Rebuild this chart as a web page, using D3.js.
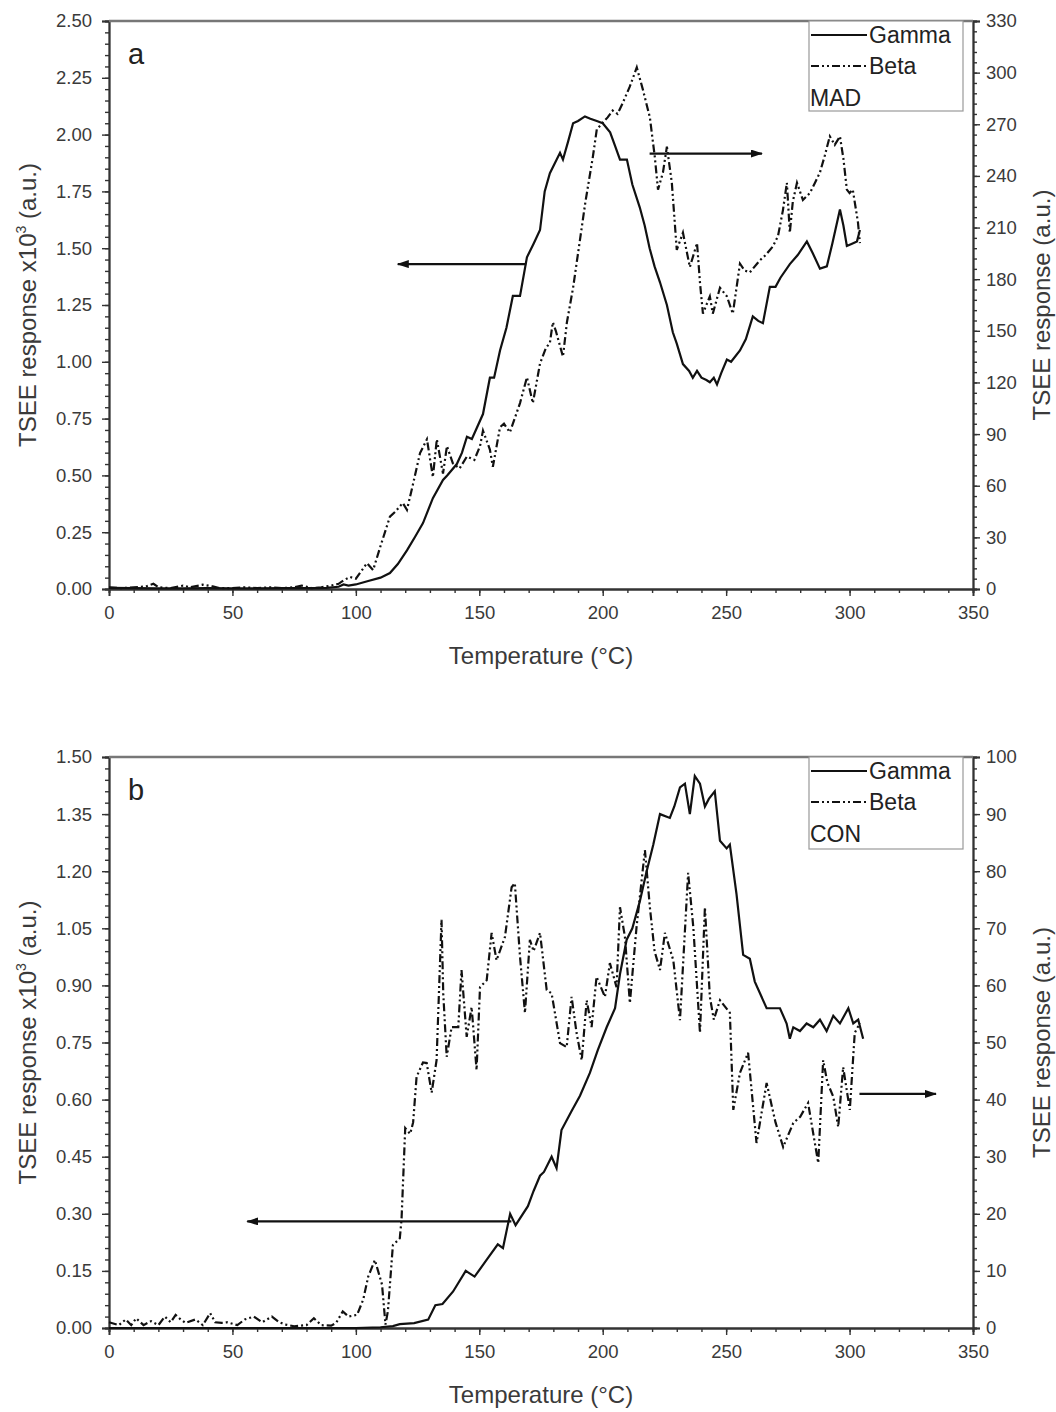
<!DOCTYPE html>
<html>
<head>
<meta charset="utf-8">
<script src="https://cdn.jsdelivr.net/npm/d3@7"></script>
<style>
  body { margin: 0; background: #fff; }
  svg { font-family: "Liberation Sans", Arial, sans-serif; }
</style>
</head>
<body>
<svg id="chart" width="1056" height="1412"></svg>
<script>
// ─── DATA ─────────────────────────────────────────────────────────────────────
// [temperature °C, value]; gamma on left axis (x10^3 a.u.), beta on right axis (a.u.)
const xTicks = [0, 50, 100, 150, 200, 250, 300, 350];

const madGamma = [
  [0,0.005],[10,0.004],[20,0.003],[30,0.003],[40,0.004],[50,0.003],[60,0.003],[70,0.004],
  [80,0.004],[88,0.005],[93,0.01],[95,0.02],[97,0.015],[100,0.02],[105,0.035],[110,0.05],
  [113.8,0.07],[117,0.11],[120.7,0.17],[124,0.23],[127.2,0.29],[131.2,0.40],[135.3,0.48],
  [137,0.50],[140.9,0.55],[143,0.60],[145,0.67],[147,0.66],[151.5,0.77],[154.3,0.93],
  [156,0.93],[158.4,1.05],[161,1.15],[163.6,1.29],[166.5,1.29],[169.3,1.46],[172,1.52],
  [174.6,1.58],[176.5,1.75],[178.6,1.83],[182.7,1.92],[183.9,1.89],[186,1.97],[188,2.05],
  [190,2.06],[192.8,2.08],[195,2.07],[197.6,2.06],[200,2.05],[203,2.01],[205,1.95],
  [207,1.89],[209.8,1.89],[212,1.78],[215,1.68],[217,1.60],[219,1.50],[221,1.42],
  [223.2,1.35],[226,1.25],[228.4,1.13],[230,1.08],[232.5,0.99],[235,0.96],[236.5,0.93],
  [238.2,0.96],[240,0.93],[242,0.92],[243.4,0.91],[245,0.93],[246.3,0.90],[248,0.95],
  [250.3,1.01],[252,1.00],[255.6,1.05],[258,1.10],[260.8,1.20],[263,1.18],[264.9,1.17],
  [267.7,1.33],[270,1.33],[272,1.37],[275.8,1.43],[279,1.47],[282.7,1.53],[285,1.48],
  [288,1.41],[290.8,1.42],[293,1.52],[296.1,1.67],[297.5,1.60],[298.9,1.51],[301,1.52],
  [303,1.53],[304.2,1.58]
];

const madBeta = [
  [0,1],[5,0.5],[10,1],[15,1.5],[18,3],[20,1],[25,0.5],[30,2],[33,1],[38,2.5],[42,1.5],
  [45,0.5],[50,0.5],[55,1],[60,0.5],[65,1],[70,0.5],[75,1],[78,2],[82,0.5],[86,1],[90,2],
  [93,3],[95,5],[97.6,7],[100,6],[102,10],[104.5,15],[107,11],[110,25],[113.8,42],[116,45],
  [119,50],[120.7,46],[123,60],[126,79],[128.8,87],[131.2,65],[132.8,87],[135.3,67],
  [136.9,83],[139.3,73],[142,70],[145,77],[148,75],[150.3,83],[151.5,92],[154.3,81],
  [155.5,71],[158.4,94],[160,96],[162.4,91],[166.5,108],[169.3,123],[171.7,108],
  [174.6,131],[177,140],[178.6,143],[179.8,155],[181,150],[183.9,135],[185.5,155],
  [188,175],[190.8,203],[193,225],[196,251],[197.6,267],[200,271],[202,274],[204,278],
  [206,276],[208,282],[211,292],[213.8,303],[216.3,290],[219.1,274],[221.1,251],
  [222.4,232],[224.4,242],[226,257],[228,236],[230,197],[232.5,207],[235.3,187],
  [238.2,201],[239.4,178],[240.6,160],[243.4,170],[244.6,160],[247.5,175],[250.3,170],
  [252.7,160],[255.6,189],[257.5,185],[259.6,184],[263.7,191],[266,194],[268.9,199],
  [271,205],[273,220],[274.6,236],[275.8,207],[277,225],[278.7,236],[281.1,226],
  [283.9,230],[286,236],[288,242],[290,252],[292,263],[294,258],[296.1,263],[297.5,250],
  [298.9,232],[300,230],[301.3,232],[303.4,213],[304.2,201]
];

const conGamma = [
  [0,0],[20,0],[40,0],[60,0],[80,0],[100,0],[110,0.002],[115,0.005],[117.8,0.01],
  [123.6,0.013],[129.3,0.022],[132.2,0.06],[135.1,0.063],[139.4,0.096],[144.5,0.15],
  [148.1,0.135],[153.1,0.18],[157.5,0.22],[159.6,0.21],[162.5,0.30],[164.7,0.27],
  [169.7,0.32],[172,0.36],[174.6,0.40],[176.2,0.41],[179.3,0.45],[181.3,0.42],[183.3,0.52],
  [187.4,0.57],[190.8,0.61],[194.8,0.67],[198,0.73],[201.6,0.79],[205,0.84],[207,0.93],
  [209.7,1.02],[212,1.05],[215,1.12],[217.8,1.20],[220.5,1.27],[223.2,1.35],[227.2,1.34],
  [229,1.37],[231.3,1.42],[233.3,1.43],[235.3,1.35],[237.3,1.45],[239.4,1.43],[241.4,1.37],
  [243,1.39],[245.4,1.41],[247.5,1.28],[250.2,1.26],[251.5,1.27],[254.2,1.14],[256.9,0.98],
  [259.6,0.97],[261.6,0.91],[266.4,0.84],[269,0.84],[271.8,0.84],[274.5,0.80],[275.8,0.76],
  [277.2,0.79],[279.9,0.78],[282.6,0.80],[285.3,0.79],[288,0.81],[290.7,0.78],[293.4,0.82],
  [296.1,0.80],[299.5,0.84],[301.5,0.80],[303.5,0.81],[305.5,0.76]
];

const conBeta = [
  [0,1],[4,0.5],[6.8,1.5],[9,0.5],[11,1.7],[14,0.5],[17,1.2],[20,0.5],[22.6,2],[25,1],
  [27,2.3],[29,1.5],[31,0.9],[35,1.5],[38,0.5],[41,2.6],[43,1],[45.7,0.9],[48,1],[52,0.5],
  [55,1.5],[58.7,2],[62,1],[66,2],[69,1],[71.7,0.6],[75,0.3],[80,0.5],[83,1.7],[86,0.5],
  [90,0.4],[92,0.9],[94.7,2.9],[97,2],[100.5,2.3],[103,5],[105,9],[107.7,11.9],[109,10],
  [110.6,7.6],[112,0.6],[113,3],[115,14.5],[117.8,15.7],[118.5,19],[120,35],[122,34],
  [123.2,36],[124.6,44],[127.2,46.5],[128.7,46.4],[130.7,41.2],[132.7,46.9],[134.7,71.5],
  [135.4,58.6],[136.8,47.5],[138.8,52.7],[141.5,52.7],[142.8,62.7],[144.9,51],[146.9,56.2],
  [148.9,45.2],[150.3,59.7],[153,60.9],[155,69.2],[157,64.4],[160.4,68.5],[163.1,77.2],
  [164.4,77.9],[166.5,65],[168.5,55.2],[170.5,68],[172,66],[174.6,69.2],[177.3,59.2],
  [179.3,58.6],[182.7,49.9],[185.4,49.2],[187.4,58],[189.4,51.7],[191.5,46.9],[193.5,57.4],
  [195.5,52.7],[197.5,61.5],[200.9,58],[202.9,63.9],[205.6,59.7],[207,73.7],[209,68.5],
  [211,56.9],[213.7,70.2],[217.1,83.7],[219.1,73.7],[221,66],[223.2,62.7],[225.2,69.2],
  [228.6,64.4],[231.3,53.9],[234.6,79.7],[236.7,70.2],[239.4,51.7],[241.4,73.7],[243.4,58],
  [245,54],[247.5,57.4],[251.5,55.2],[252.9,38.2],[255.6,44.7],[258.9,48.2],[262.3,32.4],
  [266.4,42.9],[270,36],[273.1,31.7],[277.2,35.9],[280,37],[283.2,39.4],[287.3,28.9],
  [289.3,46.9],[291,43],[293.4,40.5],[295.4,35.2],[297.4,45.7],[300.1,38.2],[302.1,51.7],
  [304.2,53.4]
];

// left / right tick labels per panel
const madLeftTicks  = [0, 0.25, 0.5, 0.75, 1.0, 1.25, 1.5, 1.75, 2.0, 2.25, 2.5];
const madRightTicks = [0, 30, 60, 90, 120, 150, 180, 210, 240, 270, 300, 330];
const conLeftTicks  = [0, 0.15, 0.30, 0.45, 0.60, 0.75, 0.90, 1.05, 1.20, 1.35, 1.50];
const conRightTicks = [0, 10, 20, 30, 40, 50, 60, 70, 80, 90, 100];

// arrows: [tFrom, tTo, value, axis]
const madArrows = [[169, 117, 1.43, 'left'], [219, 264.5, 253, 'right']];
const conArrows = [[163, 56, 0.28, 'left'], [304, 335, 41, 'right']];
// ──────────────────────────────────────────────────────────────────────────────

const svg = d3.select('#chart');
const defs = svg.append('defs');
defs.append('marker')
  .attr('id', 'head')
  .attr('viewBox', '0 0 12 8')
  .attr('refX', 11).attr('refY', 4)
  .attr('markerWidth', 12).attr('markerHeight', 8)
  .attr('markerUnits', 'userSpaceOnUse')
  .attr('orient', 'auto')
  .append('path').attr('d', 'M0,0 L12,4 L0,8 Z').attr('fill', '#111');

const left = 109, right = 973;
const betaDash = '8,3,2,3,2,3';
const ink = '#3a3a3a';

function drawPanel(p) {
  const g = svg.append('g');
  const x = d3.scaleLinear().domain([0, 350]).range([left, right]);
  const yL = d3.scaleLinear().domain([0, p.leftMax]).range([p.bottom, p.top]);
  const yR = d3.scaleLinear().domain([0, p.rightMax]).range([p.bottom, p.top]);

  // minor ticks
  g.append('g').attr('transform', `translate(0,${p.bottom})`)
    .call(d3.axisBottom(x).tickValues(d3.range(0, 351, 10)).tickSize(4).tickFormat(''));
  g.append('g').attr('transform', `translate(${left},0)`)
    .call(d3.axisLeft(yL).tickValues(d3.range(0, 5 * p.leftTicks.length - 4).map(i => i * p.leftTicks[1] / 5)).tickSize(4).tickFormat(''));
  g.append('g').attr('transform', `translate(${right},0)`)
    .call(d3.axisRight(yR).tickValues(d3.range(0, 5 * p.rightTicks.length - 4).map(i => i * p.rightTicks[1] / 5)).tickSize(4).tickFormat(''));

  // major ticks
  g.append('g').attr('class', 'ax').attr('transform', `translate(0,${p.bottom})`)
    .call(d3.axisBottom(x).tickValues(xTicks).tickSize(7).tickPadding(10).tickFormat(d3.format('d')));
  g.append('g').attr('class', 'ax').attr('transform', `translate(${left},0)`)
    .call(d3.axisLeft(yL).tickValues(p.leftTicks).tickSize(7).tickPadding(10).tickFormat(d3.format('.2f')));
  g.append('g').attr('class', 'ax').attr('transform', `translate(${right},0)`)
    .call(d3.axisRight(yR).tickValues(p.rightTicks).tickSize(7).tickPadding(6).tickFormat(d3.format('d')));

  g.selectAll('.domain').attr('stroke', '#333').attr('stroke-width', 1.8);
  g.selectAll('.tick line').attr('stroke', '#333').attr('stroke-width', 1.4);
  g.selectAll('.ax text').attr('font-size', 18.5).attr('fill', ink)
    .attr('font-family', '"Liberation Sans", Arial, sans-serif');

  // top frame
  g.append('line').attr('x1', left).attr('x2', right).attr('y1', p.top).attr('y2', p.top)
    .attr('stroke', '#777').attr('stroke-width', 2.4);

  // curves
  const lineL = d3.line().x(d => x(d[0])).y(d => yL(d[1]));
  const lineR = d3.line().x(d => x(d[0])).y(d => yR(d[1]));
  g.append('path').datum(p.beta).attr('d', lineR).attr('fill', 'none')
    .attr('stroke', '#111').attr('stroke-width', 2.2).attr('stroke-dasharray', betaDash);
  g.append('path').datum(p.gamma).attr('d', lineL).attr('fill', 'none')
    .attr('stroke', '#111').attr('stroke-width', 2.2);

  // arrows
  p.arrows.forEach(([t0, t1, v, side]) => {
    const ys = side === 'left' ? yL : yR;
    g.append('line').attr('x1', x(t0)).attr('x2', x(t1)).attr('y1', ys(v)).attr('y2', ys(v))
      .attr('stroke', '#111').attr('stroke-width', 2.2).attr('marker-end', 'url(#head)');
  });

  // panel letter
  g.append('text').attr('x', left + 19).attr('y', p.top + 43).attr('font-size', 29)
    .attr('fill', '#222').text(p.letter);

  // legend
  const lx = 809, ly = p.top;
  g.append('rect').attr('x', lx).attr('y', ly).attr('width', 154).attr('height', p.legendH)
    .attr('fill', '#fff').attr('stroke', '#999').attr('stroke-width', 1.2);
  g.append('line').attr('x1', lx + 2).attr('x2', lx + 58).attr('y1', ly + 14).attr('y2', ly + 14)
    .attr('stroke', '#111').attr('stroke-width', 2.2);
  g.append('line').attr('x1', lx + 2).attr('x2', lx + 58).attr('y1', ly + 45).attr('y2', ly + 45)
    .attr('stroke', '#111').attr('stroke-width', 2.2).attr('stroke-dasharray', betaDash);
  g.append('text').attr('x', lx + 60).attr('y', ly + 22).attr('font-size', 23).attr('fill', '#222').text('Gamma');
  g.append('text').attr('x', lx + 60).attr('y', ly + 53).attr('font-size', 23).attr('fill', '#222').text('Beta');
  g.append('text').attr('x', lx + 1).attr('y', ly + 85).attr('font-size', 23).attr('fill', '#222').text(p.name);

  // axis titles
  g.append('text').attr('x', (left + right) / 2).attr('y', p.bottom + 75)
    .attr('text-anchor', 'middle').attr('font-size', 24).attr('fill', ink).text('Temperature (°C)');
  const cy = (p.top + p.bottom) / 2;
  const lt = g.append('text').attr('transform', `translate(36,${cy}) rotate(-90)`)
    .attr('text-anchor', 'middle').attr('font-size', 24).attr('fill', ink);
  lt.append('tspan').text('TSEE response x10');
  lt.append('tspan').attr('font-size', 14).attr('dy', -10).text('3');
  lt.append('tspan').attr('dy', 10).text(' (a.u.)');
  g.append('text').attr('transform', `translate(1050,${cy}) rotate(-90)`)
    .attr('text-anchor', 'middle').attr('font-size', 24).attr('fill', ink).text('TSEE response (a.u.)');
}

drawPanel({
  top: 21, bottom: 589, leftMax: 2.5, rightMax: 330,
  leftTicks: madLeftTicks, rightTicks: madRightTicks,
  gamma: madGamma, beta: madBeta, arrows: madArrows,
  letter: 'a', name: 'MAD', legendH: 90
});

drawPanel({
  top: 757, bottom: 1328, leftMax: 1.5, rightMax: 100,
  leftTicks: conLeftTicks, rightTicks: conRightTicks,
  gamma: conGamma, beta: conBeta, arrows: conArrows,
  letter: 'b', name: 'CON', legendH: 92
});
</script>
</body>
</html>
